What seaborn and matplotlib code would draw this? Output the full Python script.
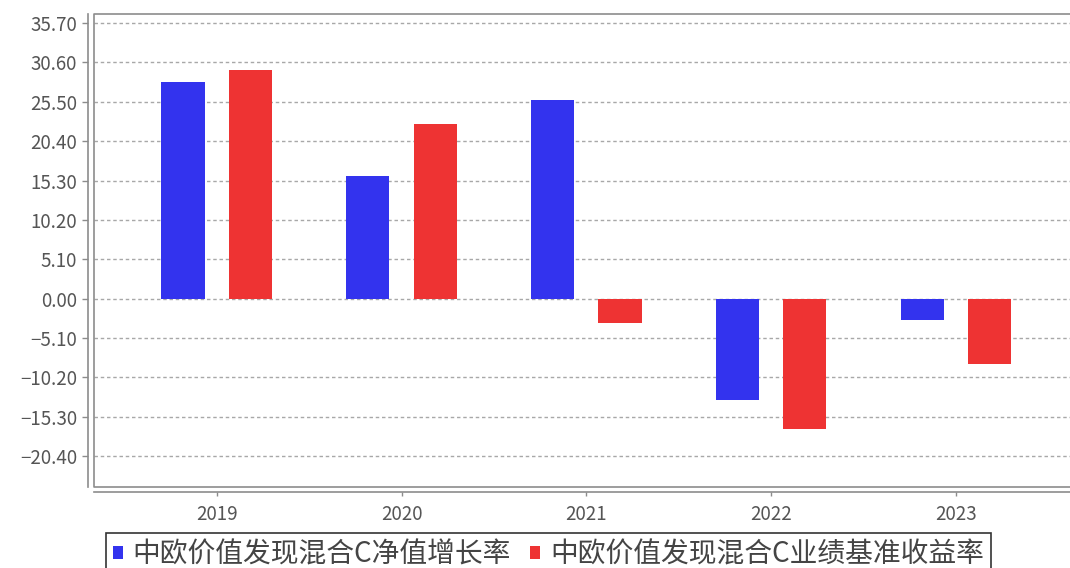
import numpy as np
import pandas as pd
import matplotlib
matplotlib.use("Agg")
import matplotlib.pyplot as plt
import seaborn as sns

years = ["2019", "2020", "2021", "2022", "2023"]
nav_growth = [28.03, 15.92, 25.70, -13.15, -2.73]
benchmark = [29.55, 22.67, -3.11, -16.87, -8.39]
series_names = ["中欧价值发现混合C净值增长率", "中欧价值发现混合C业绩基准收益率"]
y_ticks = [35.70, 30.60, 25.50, 20.40, 15.30, 10.20, 5.10, 0.00, -5.10, -10.20, -15.30, -20.40]

df = pd.DataFrame({
    "year": years * 2,
    "series": [series_names[0]] * len(years) + [series_names[1]] * len(years),
    "value": nav_growth + benchmark,
})

sns.set_theme(style="white")
plt.rcParams["font.family"] = ["Noto Sans CJK SC", "DejaVu Sans"]
plt.rcParams["axes.unicode_minus"] = True

W, H = 1070, 568
fig = plt.figure(figsize=(W / 100, H / 100), dpi=100)
ax = fig.add_axes([94 / W, (H - 486.7) / H, 1 - 94 / W, (486.7 - 14) / H])

sns.barplot(data=df, x="year", y="value", hue="series", order=years,
            hue_order=series_names, palette=["#3333ee", "#ee3333"],
            saturation=1, width=0.73, gap=0.36, linewidth=0, ax=ax)

ax.set_xlim(-0.664, 4.617)
ax.set_ylim(-24.34, 36.86)
ax.set_yticks(y_ticks)
ax.set_yticklabels([f"{v:.2f}".replace("-", "\u2212") for v in y_ticks])
ax.set_xlabel("")
ax.set_ylabel("")

# grid + frame
ax.yaxis.grid(True, linestyle=(0, (2.5, 2)), color="#a8a8a8", linewidth=1)
ax.set_axisbelow(True)
for s in ["top", "right"]:
    ax.spines[s].set_visible(False)
ax.spines["left"].set_position(("outward", 4.3))
ax.spines["bottom"].set_position(("outward", 3.5))
for s in ["left", "bottom"]:
    ax.spines[s].set_color("#8c8c8c")
    ax.spines[s].set_linewidth(1.2)
ax.plot([1.01, 0, 0, 1.01], [1, 1, 0, 0], transform=ax.transAxes, color="#8c8c8c",
        linewidth=1.2, clip_on=False)

ax.tick_params(axis="y", left=True, length=4, width=1, color="#8c8c8c",
               labelsize=13.5, labelcolor="#555555", pad=4)
ax.tick_params(axis="x", bottom=True, length=3, width=1, color="#8c8c8c",
               labelsize=13.5, labelcolor="#555555", pad=6)

handles, labels = ax.get_legend_handles_labels()
leg = ax.legend(handles, labels, loc="upper left",
                bbox_to_anchor=(106 / W, 1 - 532.7 / H), bbox_transform=fig.transFigure,
                ncol=2, fontsize=20, frameon=True, fancybox=False,
                edgecolor="black", handlelength=0.36, handleheight=0.36,
                handletextpad=0.35, columnspacing=0.7, borderpad=0.25,
                borderaxespad=0)
leg.get_frame().set_linewidth(1.2)
for t in leg.get_texts():
    t.set_color("#444444")

fig.savefig("out.png", dpi=100)
